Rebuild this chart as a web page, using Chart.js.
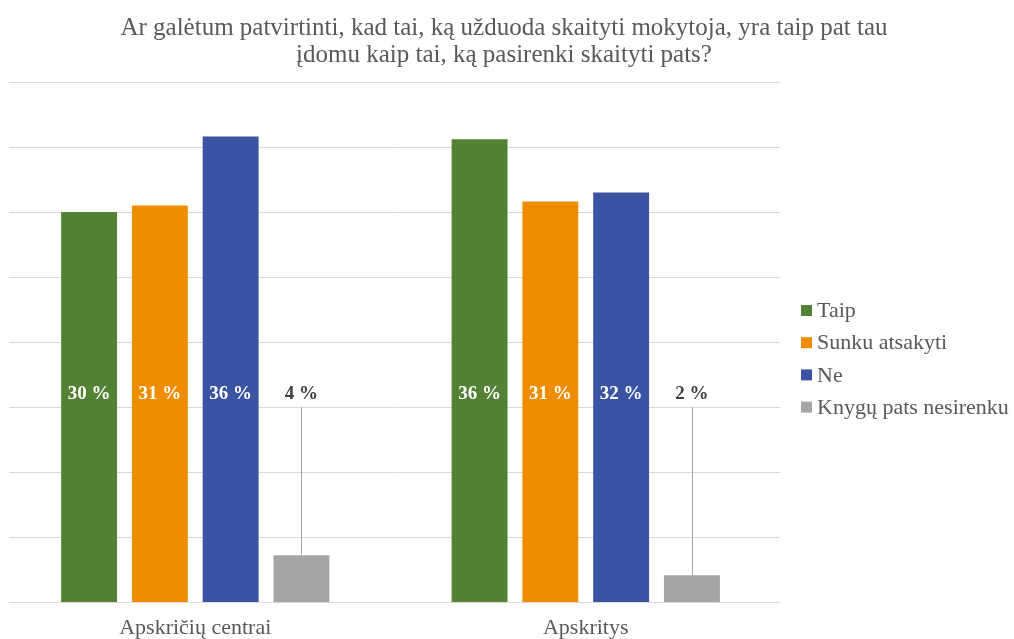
<!DOCTYPE html>
<html>
<head>
<meta charset="utf-8">
<script src="https://cdn.jsdelivr.net/npm/chart.js@4.4.1/dist/chart.umd.min.js"></script>
<style>
  html, body { margin: 0; padding: 0; background: #fff; }
  #wrap { position: relative; width: 1014px; height: 639px; }
</style>
</head>
<body>
<div id="wrap"><canvas id="chart" width="1014" height="639"></canvas></div>
<script>
// duomenys nuskaityti nuo paveikslo
const titleLines = ['Ar galėtum patvirtinti, kad tai, ką užduoda skaityti mokytoja, yra taip pat tau', 'įdomu kaip tai, ką pasirenki skaityti pats?'];
const categories = ['Apskričių centrai', 'Apskritys'];
const seriesNames = ['Taip', 'Sunku atsakyti', 'Ne', 'Knygų pats nesirenku'];
const taip = [30, 35.6];
const sunku = [30.5, 30.8];
const ne = [35.8, 31.5];
const nesirenku = [3.6, 2.05];
// etiketės kaip paveiksle
const taipLabels = ['30 %', '36 %'];
const sunkuLabels = ['31 %', '31 %'];
const neLabels = ['36 %', '32 %'];
const nesirenkuLabels = ['4 %', '2 %'];
const yTicks = [0, 5, 10, 15, 20, 25, 30, 35, 40];

const colors = ['#548235', '#EE8D00', '#3A53A2', '#A5A5A5'];
const labelColors = ['#ffffff', '#ffffff', '#ffffff', '#404040'];
const serif = '"Liberation Serif", "Times New Roman", serif';
const labelLevel = 16; // etikečių aukštis (reikšmių skalėje)

const values = [taip, sunku, ne, nesirenku];
const pctLabels = [taipLabels, sunkuLabels, neLabels, nesirenkuLabels];

// pavadinimas per visą plotį
const titlePlugin = {
    id: 'topTitle',
    afterDraw(chart) {
        const ctx = chart.ctx;
        ctx.save();
        ctx.font = '25px ' + serif;
        ctx.fillStyle = '#595959';
        ctx.textAlign = 'center';
        ctx.textBaseline = 'middle';
        titleLines.forEach((line, i) => ctx.fillText(line, 504, 28 + i * 27));
        ctx.restore();
    }
};

// tinklelio linijos nuo x=9 iki 780
const gridPlugin = {
    id: 'gridLines',
    beforeDatasetsDraw(chart) {
        const ctx = chart.ctx;
        const y = chart.scales.y;
        ctx.save();
        ctx.strokeStyle = '#D9D9D9';
        ctx.lineWidth = 1;
        yTicks.forEach(t => {
            const py = Math.round(y.getPixelForValue(t)) + 0.5;
            ctx.beginPath();
            ctx.moveTo(9, py);
            ctx.lineTo(780, py);
            ctx.stroke();
        });
        ctx.restore();
    }
};

// reikšmių etiketės ir rodyklių linijos
const labelPlugin = {
    id: 'valueLabels',
    afterDatasetsDraw(chart) {
        const ctx = chart.ctx;
        const y = chart.scales.y;
        const ly = y.getPixelForValue(labelLevel);
        ctx.save();
        ctx.font = 'bold 19px ' + serif;
        ctx.textAlign = 'center';
        ctx.textBaseline = 'middle';
        chart.data.datasets.forEach((ds, i) => {
            const meta = chart.getDatasetMeta(i);
            meta.data.forEach((bar, j) => {
                if (ds.data[j] < labelLevel) {
                    ctx.strokeStyle = '#A6A6A6';
                    ctx.lineWidth = 1;
                    ctx.beginPath();
                    const x = Math.round(bar.x) + 0.5;
                    ctx.moveTo(x, y.getPixelForValue(labelLevel - 1));
                    ctx.lineTo(x, bar.y);
                    ctx.stroke();
                }
                ctx.fillStyle = labelColors[i];
                ctx.fillText(pctLabels[i][j], bar.x, ly);
            });
        });
        ctx.restore();
    }
};

// legenda dešinėje
const legendPlugin = {
    id: 'sideLegend',
    afterDraw(chart) {
        const ctx = chart.ctx;
        ctx.save();
        ctx.font = '22px ' + serif;
        ctx.textBaseline = 'middle';
        ctx.textAlign = 'left';
        seriesNames.forEach((name, i) => {
            const cy = 310.5 + i * 32.2;
            ctx.fillStyle = colors[i];
            ctx.fillRect(801, cy - 5.5, 11, 11);
            ctx.fillStyle = '#595959';
            ctx.fillText(name, 817, cy + 1);
        });
        ctx.restore();
    }
};

const chart = new Chart(document.getElementById('chart').getContext('2d'), {
    type: 'bar',
    data: {
        labels: categories,
        datasets: seriesNames.map((name, i) => ({
            label: name,
            data: values[i],
            backgroundColor: colors[i],
            borderWidth: 0,
            barPercentage: 0.79,
            categoryPercentage: 0.725
        }))
    },
    options: {
        responsive: false,
        animation: false,
        layout: {
            padding: { left: 0, right: 233, top: 82, bottom: 0 }
        },
        scales: {
            x: {
                grid: { display: false, drawTicks: false },
                border: { display: false },
                afterFit(scale) { scale.height = 37; },
                ticks: {
                    color: '#595959',
                    padding: 13,
                    font: { family: serif, size: 22 }
                }
            },
            y: {
                display: false,
                min: 0,
                max: 40,
                ticks: { stepSize: 5 }
            }
        },
        plugins: {
            legend: { display: false },
            tooltip: { enabled: false },
            title: { display: false }
        }
    },
    plugins: [gridPlugin, labelPlugin, legendPlugin, titlePlugin]
});
</script>
</body>
</html>
